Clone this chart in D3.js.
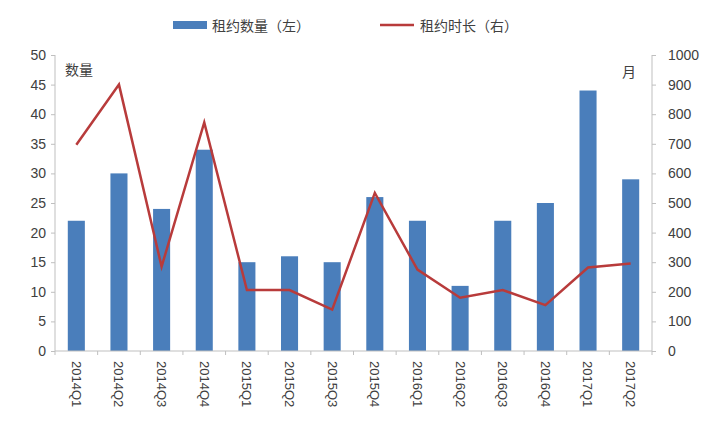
<!DOCTYPE html>
<html><head><meta charset="utf-8">
<script src="https://cdn.jsdelivr.net/npm/d3@7"></script>
<style>body{margin:0;background:#fff}text{font-family:"Noto Sans CJK SC","Liberation Sans",sans-serif}</style>
</head><body><svg id="c" width="720" height="436"></svg>
<script>
const categories=["2014Q1","2014Q2","2014Q3","2014Q4","2015Q1","2015Q2","2015Q3","2015Q4","2016Q1","2016Q2","2016Q3","2016Q4","2017Q1","2017Q2"];
const countValues=[22,30,24,34,15,16,15,26,22,11,22,25,44,29];
const durationValues=[697,900,285,772,206,206,140,534,275,180,206,155,282,296];
const leftTicks=[0,5,10,15,20,25,30,35,40,45,50];
const rightTicks=[0,100,200,300,400,500,600,700,800,900,1000];
const seriesNames=["租约数量（左）","租约时长（右）"];

const svg=d3.select("#c");
const L=55,R=652,T=55,B=351;
const x=d3.scaleBand().domain(categories).range([L,R]).paddingInner(0.6).paddingOuter(0.3);
const yL=d3.scaleLinear().domain([0,50]).range([B,T]);
const yR=d3.scaleLinear().domain([0,1000]).range([B,T]);
const axisCol="#bfbfbf", txtCol="#404040";

// bars
svg.append("g").selectAll("rect").data(countValues).join("rect")
 .attr("x",(d,i)=>x(categories[i])).attr("width",x.bandwidth())
 .attr("y",d=>yL(d)).attr("height",d=>B-yL(d)).attr("fill","#4a7ebb");

// line
const line=d3.line().x((d,i)=>x(categories[i])+x.bandwidth()/2).y(d=>yR(d));
svg.append("path").datum(durationValues).attr("d",line).attr("fill","none")
 .attr("stroke","#b83b3b").attr("stroke-width",2.5).attr("stroke-linejoin","miter");

// left axis
const gl=svg.append("g").attr("transform",`translate(${L},0)`)
 .call(d3.axisLeft(yL).tickValues(leftTicks).tickSize(4).tickPadding(5));
// right axis
const gr=svg.append("g").attr("transform",`translate(${R},0)`)
 .call(d3.axisRight(yR).tickValues(rightTicks).tickFormat(d3.format("d")).tickSize(4).tickPadding(12));
// bottom axis
const gb=svg.append("g").attr("transform",`translate(0,${B})`)
 .call(d3.axisBottom(x).tickSize(0).tickPadding(0));
gb.selectAll(".tick text").attr("transform","rotate(90)").attr("text-anchor","start")
 .attr("dy","0.35em").attr("x",10).attr("y",0);
// category separator ticks
gb.append("g").selectAll("line").data(d3.range(categories.length+1)).join("line")
 .attr("x1",i=>L+i*(R-L)/categories.length).attr("x2",i=>L+i*(R-L)/categories.length)
 .attr("y1",0).attr("y2",4).attr("stroke",axisCol);

[gl,gr,gb].forEach(g=>{
 g.select(".domain").attr("stroke",axisCol);
 g.selectAll(".tick line").attr("stroke",axisCol);
 g.selectAll(".tick text").attr("fill",txtCol).style("font-size","14px").style("font-family","'Liberation Sans',sans-serif");
});
gb.selectAll(".tick text").style("font-size","13px");
gl.select(".domain").attr("d",`M0,${B}V${T}`);
gr.select(".domain").attr("d",`M0,${B}V${T}`);
gb.select(".domain").attr("d",`M${L},0H${R}`);

// unit labels
svg.append("text").attr("x",65).attr("y",75).text("数量").attr("fill",txtCol).style("font-size","14px");
svg.append("text").attr("x",622).attr("y",77).text("月").attr("fill",txtCol).style("font-size","14px");

// legend
svg.append("rect").attr("x",173).attr("y",21).attr("width",34).attr("height",8).attr("fill","#4a7ebb");
svg.append("text").attr("x",212).attr("y",31).text(seriesNames[0]).attr("fill",txtCol).style("font-size","14px");
svg.append("line").attr("x1",380).attr("x2",414).attr("y1",25).attr("y2",25).attr("stroke","#b83b3b").attr("stroke-width",2.5);
svg.append("text").attr("x",420).attr("y",31).text(seriesNames[1]).attr("fill",txtCol).style("font-size","14px");
</script></body></html>
